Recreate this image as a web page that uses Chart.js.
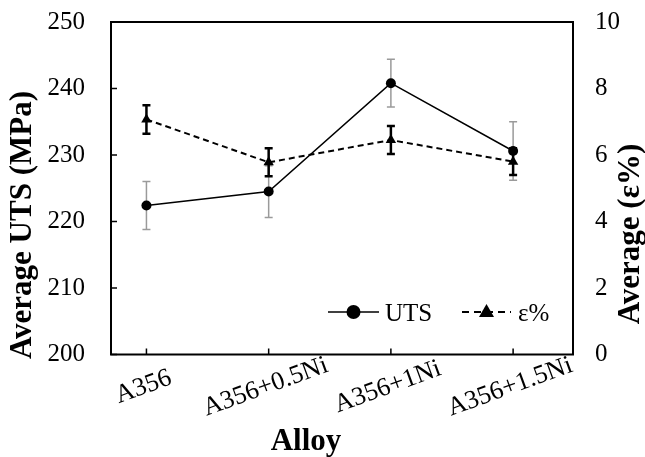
<!DOCTYPE html>
<html><head><meta charset="utf-8">
<script src="https://cdn.jsdelivr.net/npm/chart.js@4/dist/chart.umd.min.js"></script>
<style>html,body{margin:0;padding:0;background:#fff}canvas{display:block}</style>
</head><body>
<canvas id="c" width="645" height="457"></canvas>
<script>
const categories = ['A356', 'A356+0.5Ni', 'A356+1Ni', 'A356+1.5Ni'];
const utsValues = [222.4, 224.5, 240.8, 230.6];
const utsErrors = [3.6, 3.9, 3.6, 4.4];
const elongValues = [7.07, 5.78, 6.45, 5.8];
const elongErrors = [0.43, 0.42, 0.42, 0.4];
const leftTickStep = 10;
const rightTickStep = 2;
const seriesNames = ['UTS', 'ε%'];
const leftTitle = 'Average UTS (MPa)';
const rightTitle = 'Average (ε%)';
const xTitle = 'Alloy';

const SERIF = "'Liberation Serif','Times New Roman',serif";

const errorBars = {
  id: 'errorBars',
  beforeDatasetsDraw(chart) {
    const ctx = chart.ctx;
    const xs = chart.scales.x;
    const specs = [
      {vals: utsValues, errs: utsErrors, scale: chart.scales.y, color: '#9a9a9a', width: 1.5},
      {vals: elongValues, errs: elongErrors, scale: chart.scales.y2, color: '#000', width: 2.5}
    ];
    ctx.save();
    specs.forEach(s => {
      ctx.strokeStyle = s.color;
      ctx.lineWidth = s.width;
      s.vals.forEach((v, i) => {
        const px = xs.getPixelForValue(i);
        const top = s.scale.getPixelForValue(v + s.errs[i]);
        const bot = s.scale.getPixelForValue(v - s.errs[i]);
        ctx.beginPath();
        ctx.moveTo(px, top); ctx.lineTo(px, bot);
        ctx.moveTo(px - 4, top); ctx.lineTo(px + 4, top);
        ctx.moveTo(px - 4, bot); ctx.lineTo(px + 4, bot);
        ctx.stroke();
      });
    });
    ctx.restore();
  }
};

const decorations = {
  id: 'decorations',
  afterDraw(chart) {
    const ctx = chart.ctx;
    const ca = chart.chartArea;
    const xs = chart.scales.x, ys = chart.scales.y;
    ctx.save();
    ctx.strokeStyle = '#000';
    ctx.lineWidth = 2;
    ctx.strokeRect(ca.left, ca.top, ca.right - ca.left, ca.bottom - ca.top);
    ctx.lineWidth = 1.5;
    ctx.beginPath();
    ys.ticks.forEach(t => {
      const py = ys.getPixelForValue(t.value);
      ctx.moveTo(ca.left, py); ctx.lineTo(ca.left + 6, py);
    });
    categories.forEach((c, i) => {
      const px = xs.getPixelForValue(i);
      ctx.moveTo(px, ca.bottom); ctx.lineTo(px, ca.bottom - 6);
    });
    ctx.stroke();
    ctx.fillStyle = '#000';
    ctx.font = '26px ' + SERIF;
    ctx.textAlign = 'center';
    ctx.textBaseline = 'middle';
    categories.forEach((c, i) => {
      const px = xs.getPixelForValue(i);
      ctx.save();
      ctx.translate(px - 3, 387);
      ctx.rotate(-20 * Math.PI / 180);
      ctx.fillText(c, 0, 0);
      ctx.restore();
    });
    ctx.font = 'bold 31px ' + SERIF;
    ctx.textBaseline = 'alphabetic';
    ctx.save();
    ctx.translate(31, 225);
    ctx.rotate(-Math.PI / 2);
    ctx.fillText(leftTitle, 0, 0);
    ctx.restore();
    ctx.save();
    ctx.translate(639, 234);
    ctx.rotate(-Math.PI / 2);
    ctx.fillText(rightTitle, 0, 0);
    ctx.restore();
    ctx.fillText(xTitle, 306, 450);
    const ly = 312;
    ctx.lineWidth = 1.5;
    ctx.beginPath();
    ctx.moveTo(328, ly); ctx.lineTo(379, ly);
    ctx.stroke();
    ctx.beginPath();
    ctx.arc(353.5, ly, 7, 0, Math.PI * 2);
    ctx.fill();
    ctx.lineWidth = 2;
    ctx.setLineDash([7, 5]);
    ctx.beginPath();
    ctx.moveTo(462, ly); ctx.lineTo(511, ly);
    ctx.stroke();
    ctx.setLineDash([]);
    ctx.beginPath();
    ctx.moveTo(486.5, ly - 8); ctx.lineTo(494, ly + 5); ctx.lineTo(479, ly + 5);
    ctx.closePath();
    ctx.fill();
    ctx.font = '25px ' + SERIF;
    ctx.textAlign = 'left';
    ctx.fillText(seriesNames[0], 385, 321);
    ctx.fillText(seriesNames[1], 518, 321);
    ctx.restore();
  }
};

function fixVertical(width) {
  return function (s) {
    s.width = width;
    s.paddingTop = 0;
    s.paddingBottom = 0;
  };
}

new Chart(document.getElementById('c'), {
  type: 'line',
  data: {
    datasets: [
      {
        label: seriesNames[0],
        data: utsValues.map((v, i) => ({x: i, y: v})),
        yAxisID: 'y',
        borderColor: '#000',
        backgroundColor: '#000',
        borderWidth: 1.5,
        pointStyle: 'circle',
        pointRadius: 5,
        pointBorderWidth: 0,
        tension: 0
      },
      {
        label: seriesNames[1],
        data: elongValues.map((v, i) => ({x: i, y: v})),
        yAxisID: 'y2',
        borderColor: '#000',
        backgroundColor: '#000',
        borderWidth: 2,
        borderDash: [6, 4],
        pointStyle: 'triangle',
        pointRadius: 6,
        pointBorderWidth: 0,
        tension: 0
      }
    ]
  },
  options: {
    responsive: false,
    animation: false,
    devicePixelRatio: 1,
    layout: {padding: {top: 22, left: 0, right: 0, bottom: 0}},
    plugins: {legend: {display: false}, tooltip: {enabled: false}},
    scales: {
      x: {
        type: 'linear', min: -0.29, max: 3.49,
        ticks: {display: false},
        grid: {display: false},
        border: {display: false},
        afterFit(s) { s.height = 102.5; s.paddingLeft = 0; s.paddingRight = 0; }
      },
      y: {
        position: 'left', min: 200, max: 250,
        ticks: {stepSize: leftTickStep, font: {family: SERIF, size: 25}, color: '#000', padding: 18},
        grid: {display: false},
        border: {display: false},
        afterFit: fixVertical(111)
      },
      y2: {
        position: 'right', min: 0, max: 10,
        ticks: {stepSize: rightTickStep, font: {family: SERIF, size: 25}, color: '#000', padding: 14},
        grid: {display: false},
        border: {display: false},
        afterFit: fixVertical(72)
      }
    }
  },
  plugins: [errorBars, decorations]
});
</script>
</body></html>
